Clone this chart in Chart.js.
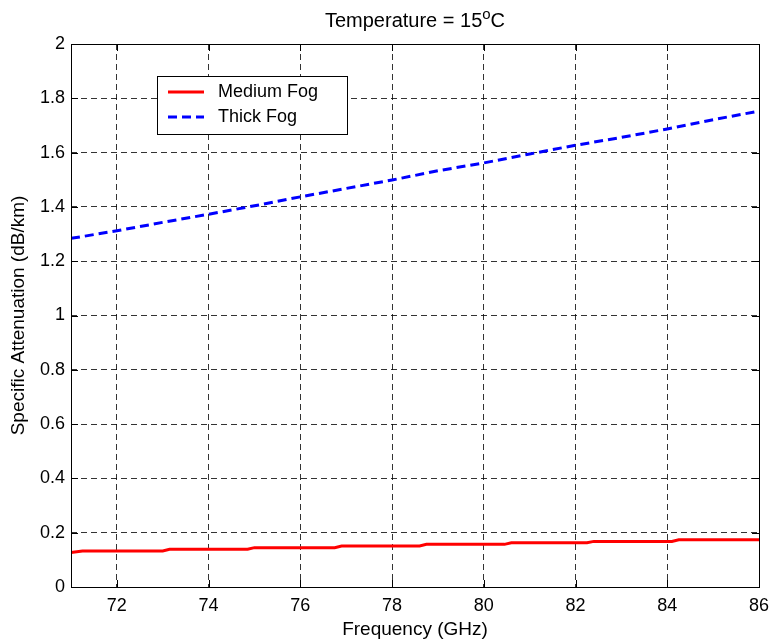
<!DOCTYPE html>
<html>
<head>
<meta charset="utf-8">
<script src="https://cdn.jsdelivr.net/npm/chart.js@4"></script>
<style>
  html, body { margin: 0; padding: 0; background: #fff; }
  #wrap { width: 772px; height: 641px; }
</style>
</head>
<body>
<div id="wrap"><canvas id="myChart" width="772" height="641"></canvas></div>
<script>
// Data
var thickFreq = [71, 72, 73, 74, 75, 76, 77, 78, 79, 80, 81, 82, 83, 84, 85, 86];
var thickFog = [1.284, 1.312, 1.343, 1.373, 1.404, 1.437, 1.468, 1.499, 1.533, 1.562, 1.595, 1.627, 1.656, 1.687, 1.721, 1.753];

var mediumFreq = [71, 71.25, 73.0, 73.15, 74.85, 75.0, 76.75, 76.9, 78.6, 78.75, 80.45, 80.6, 82.25, 82.4, 84.1, 84.25, 86];
var mediumFog = [0.127, 0.133, 0.133, 0.139, 0.139, 0.145, 0.145, 0.151, 0.151, 0.157, 0.157, 0.163, 0.163, 0.168, 0.168, 0.174, 0.174];

var xTicks = [72, 74, 76, 78, 80, 82, 84, 86];
var yTicks = [0, 0.2, 0.4, 0.6, 0.8, 1, 1.2, 1.4, 1.6, 1.8, 2];

var seriesLabels = ['Medium Fog', 'Thick Fog'];
var chartTitle = 'Temperature = 15';

var FONT = '"Liberation Sans", Arial, Helvetica, sans-serif';

function toPoints(xs, ys) {
  var pts = [];
  for (var i = 0; i < xs.length; i++) pts.push({x: xs[i], y: ys[i]});
  return pts;
}

// Box, inward ticks, title and legend (MATLAB look)
var matlabDecor = {
  id: 'matlabDecor',
  afterDraw: function(chart) {
    var ctx = chart.ctx;
    var a = chart.chartArea;
    var xs = chart.scales.x, ys = chart.scales.y;
    ctx.save();
    ctx.strokeStyle = '#000';
    ctx.lineWidth = 1;
    ctx.setLineDash([]);
    ctx.beginPath();
    xTicks.forEach(function(v) {
      var px = Math.round(xs.getPixelForValue(v)) + 0.5;
      ctx.moveTo(px, a.bottom); ctx.lineTo(px, a.bottom - 7);
      ctx.moveTo(px, a.top); ctx.lineTo(px, a.top + 7);
    });
    yTicks.forEach(function(v) {
      var py = Math.round(ys.getPixelForValue(v)) + 0.5;
      ctx.moveTo(a.left, py); ctx.lineTo(a.left + 7, py);
      ctx.moveTo(a.right, py); ctx.lineTo(a.right - 7, py);
    });
    ctx.stroke();
    ctx.strokeRect(Math.round(a.left) + 0.5, Math.round(a.top) + 0.5,
                   Math.round(a.right - a.left), Math.round(a.bottom - a.top));

    // title with superscript o
    ctx.fillStyle = '#000';
    ctx.textBaseline = 'alphabetic';
    ctx.font = '20px ' + FONT;
    var w1 = ctx.measureText(chartTitle).width;
    ctx.font = '15px ' + FONT;
    var w2 = ctx.measureText('o').width;
    ctx.font = '20px ' + FONT;
    var w3 = ctx.measureText('C').width;
    var cx = (a.left + a.right) / 2;
    var tx = cx - (w1 + w2 + w3) / 2;
    var ty = 27;
    ctx.textAlign = 'left';
    ctx.fillText(chartTitle, tx, ty);
    ctx.font = '15px ' + FONT;
    ctx.fillText('o', tx + w1, ty - 8);
    ctx.font = '20px ' + FONT;
    ctx.fillText('C', tx + w1 + w2, ty);

    // legend box
    var lx = 157, ly = 76, lw = 190, lh = 58;
    ctx.fillStyle = '#fff';
    ctx.fillRect(lx, ly, lw, lh);
    ctx.strokeStyle = '#000';
    ctx.lineWidth = 1;
    ctx.strokeRect(lx + 0.5, ly + 0.5, lw, lh);
    chart.data.datasets.forEach(function(ds, i) {
      var yy = ly + 16 + i * 25;
      ctx.strokeStyle = ds.borderColor;
      ctx.lineWidth = ds.borderWidth;
      ctx.setLineDash(ds.borderDash || []);
      ctx.beginPath();
      ctx.moveTo(lx + 11, yy);
      ctx.lineTo(lx + 47, yy);
      ctx.stroke();
      ctx.setLineDash([]);
      ctx.fillStyle = '#000';
      ctx.font = '18px ' + FONT;
      ctx.textBaseline = 'middle';
      ctx.fillText(ds.label, lx + 61, yy);
    });
    ctx.restore();
  }
};

var ctx = document.getElementById('myChart').getContext('2d');
var myChart = new Chart(ctx, {
  type: 'line',
  data: {
    datasets: [{
      label: seriesLabels[0],
      data: toPoints(mediumFreq, mediumFog),
      borderColor: '#ff0000',
      borderWidth: 3,
      pointRadius: 0,
      tension: 0,
      fill: false
    }, {
      label: seriesLabels[1],
      data: toPoints(thickFreq, thickFog),
      borderColor: '#0000ff',
      borderWidth: 3,
      borderDash: [9, 5],
      pointRadius: 0,
      tension: 0,
      fill: false
    }]
  },
  options: {
    responsive: false,
    animation: false,
    layout: { padding: { top: 44, right: 13, left: 0, bottom: 0 } },
    plugins: {
      legend: { display: false },
      title: { display: false },
      tooltip: { enabled: false }
    },
    scales: {
      x: {
        type: 'linear',
        min: 71,
        max: 86,
        afterBuildTicks: function(s) {
          s.ticks = xTicks.map(function(v) { return {value: v}; });
        },
        afterFit: function(s) {
          s.height = 54;
          s.paddingRight = 0;
          s.paddingLeft = 0;
        },
        grid: { color: 'rgba(0,0,0,0.8)', lineWidth: 1, drawTicks: false },
        border: { display: false, dash: [6, 4] },
        ticks: { color: '#000', font: { family: FONT, size: 18 }, padding: 8, maxRotation: 0 },
        title: {
          display: true,
          text: 'Frequency (GHz)',
          color: '#000',
          font: { family: FONT, size: 19 },
          padding: { top: 0, bottom: 0 }
        }
      },
      y: {
        min: 0,
        max: 2,
        afterBuildTicks: function(s) {
          s.ticks = yTicks.map(function(v) { return {value: v}; });
        },
        afterFit: function(s) {
          s.width = 71;
          s.paddingTop = 0;
          s.paddingBottom = 0;
        },
        grid: { color: 'rgba(0,0,0,0.8)', lineWidth: 1, drawTicks: false },
        border: { display: false, dash: [6, 4] },
        ticks: {
          color: '#000',
          font: { family: FONT, size: 18 },
          padding: 6,
          callback: function(v) { return String(Number(v.toFixed(1))); }
        },
        title: {
          display: true,
          text: 'Specific Attenuation (dB/km)',
          color: '#000',
          font: { family: FONT, size: 19 },
          padding: { top: 7, bottom: 0 }
        }
      }
    }
  },
  plugins: [matlabDecor]
});
</script>
</body>
</html>
